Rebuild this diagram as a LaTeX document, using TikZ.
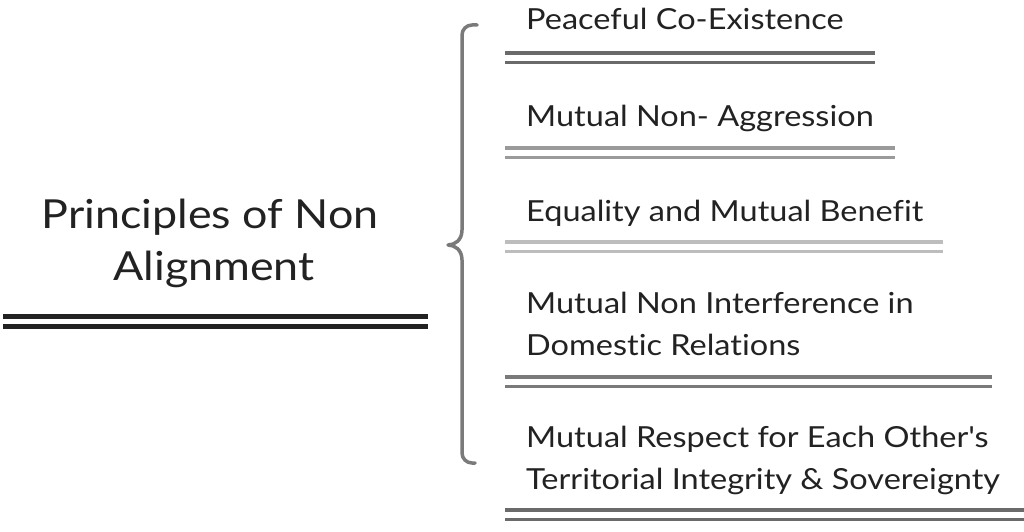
\documentclass[tikz,border=0pt]{standalone}
\usepackage{fontspec}
\setmainfont{Lato}[FakeStretch=1.12,Ligatures={TeXOff,NoCommon}]
\definecolor{txt}{HTML}{222222}
\definecolor{brace}{HTML}{7A7A7A}
\begin{document}
\begin{tikzpicture}[x=1pt,y=-1pt,
  item/.style={anchor=base west,inner sep=0pt,text=txt,font=\fontsize{29}{42}\selectfont,align=left},
  title/.style={anchor=base,inner sep=0pt,text=txt,font=\fontsize{40}{52}\selectfont,align=center},
  dline/.style={line width=3.2pt},
  tline/.style={line width=5pt,draw=txt}]
\useasboundingbox (0,0) rectangle (1024,532);
\fill[white] (0,0) rectangle (1024,532);
% title
\node[title] (t1) at (210,228) {Principles of Non};
\node[title] (t2) at (214,280) {Alignment};
\coordinate (tl) at (3,316); \coordinate (tr) at (428,316);
\coordinate (tl2) at (3,326); \coordinate (tr2) at (428,326);
\draw[tline] (tl) -- (tr);
\draw[tline] (tl2) -- (tr2);
% brace
\coordinate (bt) at (477,25);
\coordinate (bm) at (448,245);
\coordinate (bb) at (475,463);
\draw[brace,line width=3.5pt,line cap=round,line join=round]
  (bt) -- (472,25) arc[start angle=90,end angle=180,radius=10pt] -- (462,230)
  .. controls (462,240) and (455,245) .. (bm)
  .. controls (455,245) and (462,250) .. (462,260)
  -- (462,453) arc[start angle=180,end angle=270,radius=10pt] -- (bb);
% items
\node[item] (i1) at (526,30) {Peaceful Co-Existence};
\node[item] (i2) at (526,126) {Mutual Non- Aggression};
\node[item] (i3) at (526,221) {Equality and Mutual Benefit};
\node[item] (i4) at (526,355) {Mutual Non Interference in\\Domestic Relations};
\node[item] (i5) at (526,489) {Mutual Respect for Each Other's\\Territorial Integrity \& Sovereignty};
% double lines
\foreach \y/\xe/\c in {53/875/6A6A6A,148/895/9A9A9A,242/943/BDBDBD,377/992/7A7A7A,510/1024/6A6A6A}{
  \definecolor{lc}{HTML}{\c}
  \draw[dline,lc] (505,\y) -- (\xe,\y);
  \draw[dline,lc] (505,\y+9.5) -- (\xe,\y+9.5);
}
\end{tikzpicture}
\end{document}
